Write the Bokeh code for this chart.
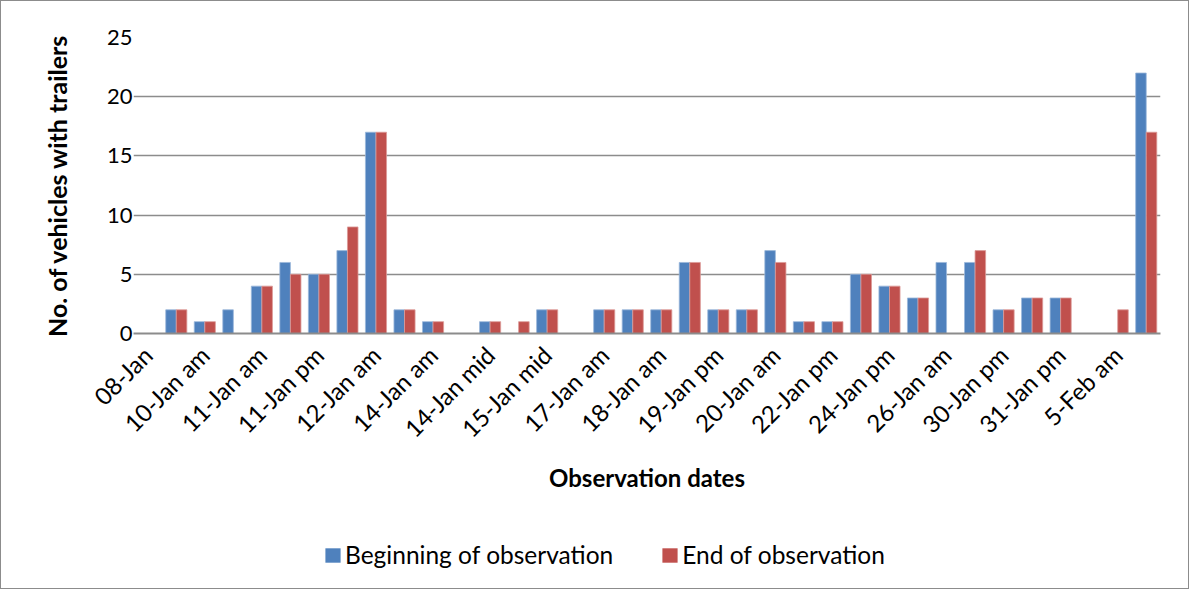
import math
from bokeh.plotting import figure
from bokeh.layouts import column
from bokeh.models import Range1d, FixedTicker, ColumnDataSource, Legend, LegendItem
from bokeh.transform import dodge
from bokeh.embed import file_html
from bokeh.resources import INLINE

# ---- data -------------------------------------------------------------
tick_labels = ["08-Jan", "10-Jan am", "11-Jan am", "11-Jan pm", "12-Jan am",
               "14-Jan am", "14-Jan mid", "15-Jan mid", "17-Jan am", "18-Jan am",
               "19-Jan pm", "20-Jan am", "22-Jan pm", "24-Jan pm", "26-Jan am",
               "30-Jan pm", "31-Jan pm", "5-Feb am"]
beginning = [0, 2, 1, 2, 4, 6, 5, 7, 17, 2,
             1, 0, 1, 0, 2, 0, 2, 2, 2, 6,
             2, 2, 7, 1, 1, 5, 4, 3, 6, 6,
             2, 3, 3, 0, 0, 22]
end_obs = [0, 2, 1, 0, 4, 5, 5, 9, 17, 2,
           1, 0, 1, 1, 2, 0, 2, 2, 2, 6,
           2, 2, 6, 1, 1, 5, 4, 3, 0, 7,
           2, 3, 3, 0, 2, 17]
series_names = ["Beginning of observation", "End of observation"]
x_title = "Observation dates"
y_title = "No. of vehicles with trailers"

# ---- styles ------------------------------------------------------------
FONT = "Lato"
BLUE = "#4F81BD"
RED = "#C0504D"
GRID = "#8c8c8c"
W = 1187
H_MAIN = 510
H_LEG = 77

n = len(beginning)
idx = list(range(n))
src = ColumnDataSource(dict(x=idx, b=beginning, e=end_obs))

p = figure(width=W, height=H_MAIN, output_backend="svg", toolbar_location=None,
           x_range=Range1d(-0.5, n - 0.5), y_range=Range1d(0, 25),
           min_border_left=132, min_border_right=28, min_border_top=36,
           min_border_bottom=H_MAIN - 36 - 296)
p.outline_line_color = None

bw = 0.37
p.vbar(x=dodge("x", -bw / 2), top="b", width=bw, source=src,
       fill_color=BLUE, line_color="#9bb7da", line_width=0.8)
p.vbar(x=dodge("x", bw / 2), top="e", width=bw, source=src,
       fill_color=RED, line_color="#dc9a98", line_width=0.8)

# x axis
xa = p.xaxis[0]
xa.ticker = FixedTicker(ticks=idx[::2])
xa.major_label_overrides = {i: lab for i, lab in zip(idx[::2], tick_labels)}
xa.major_label_orientation = math.pi / 4
xa.major_label_text_font = FONT
xa.major_label_text_font_size = "24px"
xa.major_label_text_color = "black"
xa.major_label_standoff = 11
xa.major_tick_line_color = None
xa.minor_tick_line_color = None
xa.axis_line_color = GRID
xa.axis_line_width = 2
xa.axis_label = x_title
xa.axis_label_text_font = FONT
xa.axis_label_text_font_style = "bold"
xa.axis_label_text_font_size = "24px"
xa.axis_label_text_color = "black"
xa.axis_label_standoff = 7

# y axis
ya = p.yaxis[0]
ya.ticker = FixedTicker(ticks=[0, 5, 10, 15, 20, 25])
ya.major_label_text_font = FONT
ya.major_label_text_font_size = "22px"
ya.major_label_text_color = "black"
ya.major_label_standoff = -5
ya.major_tick_line_color = None
ya.minor_tick_line_color = None
ya.axis_line_color = None
ya.axis_label = y_title
ya.axis_label_text_font = FONT
ya.axis_label_text_font_style = "bold"
ya.axis_label_text_font_size = "25px"
ya.axis_label_text_color = "black"
ya.axis_label_standoff = 32

p.xgrid.grid_line_color = None
p.ygrid.grid_line_color = GRID
p.ygrid.grid_line_width = 1.5

# ---- legend strip (frame is aligned with the main frame by the column) --
lg = figure(width=W, height=H_LEG, output_backend="svg", toolbar_location=None,
            x_range=Range1d(0, 1), y_range=Range1d(0, 1),
            x_axis_location=None, y_axis_location=None,
            min_border=0, outline_line_color=None)
lg.grid.visible = False
l1 = lg.vbar(x="x", top="b", width=bw, source=src, fill_color=BLUE,
             line_color=None, visible=False)
l2 = lg.vbar(x="x", top="e", width=bw, source=src, fill_color=RED,
             line_color=None, visible=False)
legend = Legend(items=[LegendItem(label=series_names[0], renderers=[l1]),
                       LegendItem(label=series_names[1], renderers=[l2])],
                orientation="horizontal", location=(190, 19),
                border_line_color=None, background_fill_alpha=0,
                label_text_font=FONT, label_text_font_size="24.5px",
                label_text_color="black",
                glyph_width=19, glyph_height=18, label_standoff=3,
                spacing=47, padding=0, margin=0)
lg.add_layout(legend, "center")

layout = column(p, lg, spacing=0)
layout.styles = {"border": "1px solid #8c8c8c"}

open("out.html", "w").write(file_html(layout, INLINE))
